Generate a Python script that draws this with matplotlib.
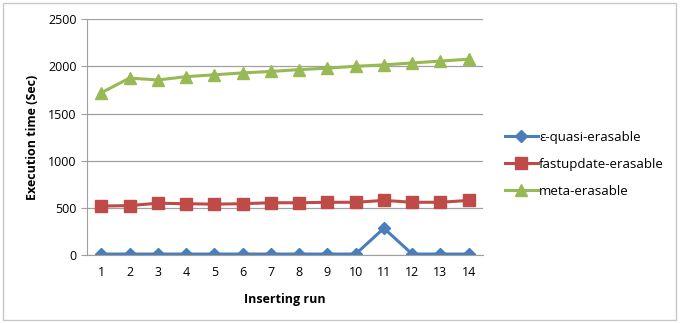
import matplotlib
matplotlib.use('Agg')
import matplotlib.pyplot as plt
from matplotlib.patches import Rectangle

plt.rcParams['font.family'] = ['Open Sans', 'DejaVu Sans']

runs = list(range(1, 15))
quasi = [12, 12, 12, 12, 12, 12, 12, 12, 12, 12, 285, 12, 12, 12]
fastupdate = [520, 525, 550, 545, 540, 545, 555, 555, 560, 560, 580, 560, 560, 580]
meta = [1720, 1875, 1855, 1890, 1910, 1930, 1945, 1965, 1980, 2000, 2015, 2035, 2055, 2075]
labels = ['\u03b5-quasi-erasable', 'fastupdate-erasable', 'meta-erasable']

fig = plt.figure(figsize=(6.81, 3.23), dpi=100)
fig.patches.append(Rectangle((0.005, 0.01), 0.987, 0.98, transform=fig.transFigure,
                             fill=False, edgecolor='#c8c8c8', linewidth=1))
ax = fig.add_axes([0.128, 0.21, 0.581, 0.731])

ax.plot(runs, quasi, color='#4a7ebb', marker='D', markersize=6, linewidth=2.2, label=labels[0])
ax.plot(runs, fastupdate, color='#be4b48', marker='s', markersize=8, linewidth=2.2, label=labels[1])
ax.plot(runs, meta, color='#98b954', marker='^', markersize=9, linewidth=2.2, label=labels[2])

ax.set_xlim(0.5, 14.5)
ax.set_ylim(0, 2500)
ax.set_xticks(runs)
ax.set_yticks(range(0, 2501, 500))
ax.grid(True, axis='y', color='#a0a0a0', linewidth=0.9)
ax.set_axisbelow(True)
for s in ['top', 'right']:
    ax.spines[s].set_visible(False)
ax.spines['left'].set_color('#a0a0a0')
ax.spines['bottom'].set_color('#a0a0a0')
ax.tick_params(axis='x', length=0, labelsize=9, pad=8, labelcolor='black')
ax.tick_params(axis='y', length=4, labelsize=9, direction='out', labelcolor='black', color='#a0a0a0')
ax.set_xlabel('Inserting run', fontsize=9, fontweight='bold', labelpad=10)
ax.set_ylabel('Execution time (Sec)', fontsize=9, fontweight='bold', labelpad=7)

ax.legend(loc='center left', bbox_to_anchor=(1.025, 0.385), frameon=False, fontsize=9.5,
          handlelength=2.5, labelspacing=1.05, handletextpad=0.1)

fig.savefig('out.png', dpi=100)
